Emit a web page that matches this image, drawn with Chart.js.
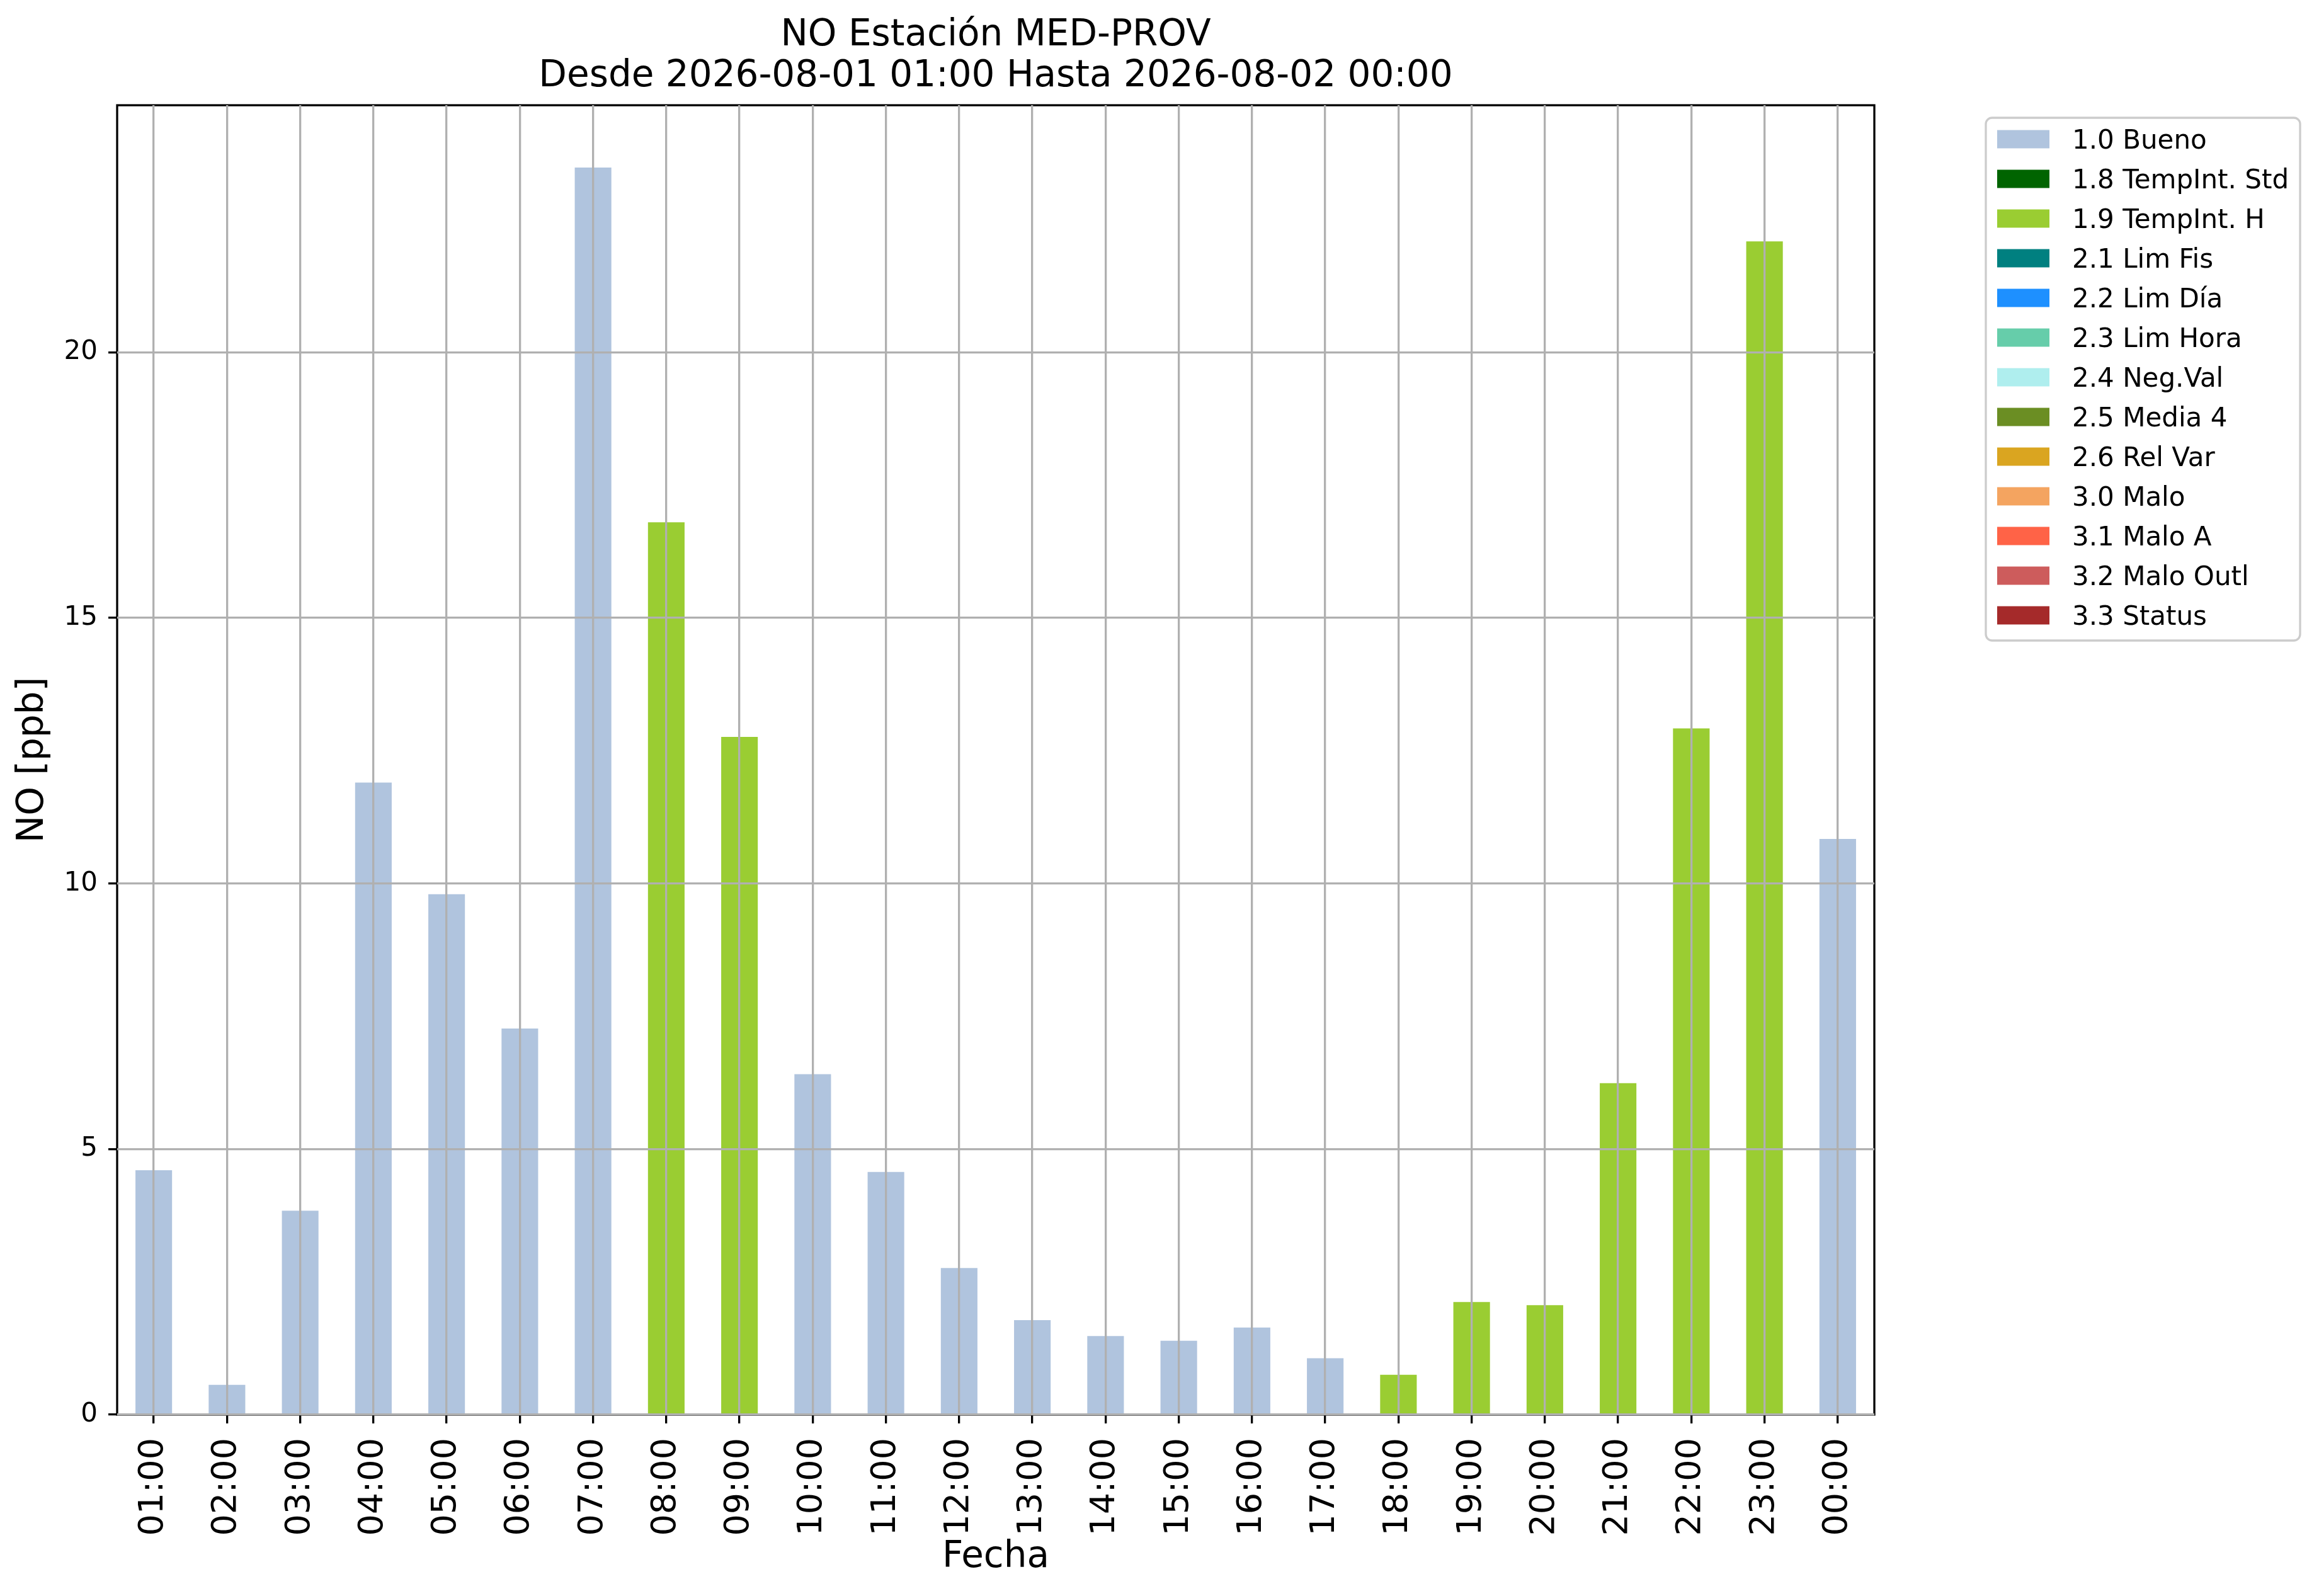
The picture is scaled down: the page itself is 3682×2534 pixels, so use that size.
<!DOCTYPE html>
<html>
<head>
<meta charset="utf-8">
<script src="https://cdn.jsdelivr.net/npm/chart.js@4.4.1/dist/chart.umd.min.js"></script>
<style>
  body { margin: 0; background: #fff; }
</style>
</head>
<body>
<canvas id="grafico" width="3682" height="2534"></canvas>
<script>
// horas del dia (eje x)
const horas = ['01:00', '02:00', '03:00', '04:00', '05:00', '06:00', '07:00', '08:00',
    '09:00', '10:00', '11:00', '12:00', '13:00', '14:00', '15:00', '16:00',
    '17:00', '18:00', '19:00', '20:00', '21:00', '22:00', '23:00', '00:00']

// valores NO [ppb] por bandera de validacion
const bueno = [4.60, 0.56, 3.84, 11.90, 9.80, 7.27, 23.48, null,
    null, 6.41, 4.57, 2.76, 1.78, 1.48, 1.39, 1.64,
    1.06, null, null, null, null, null, null, 10.84]
const tempIntH = [null, null, null, null, null, null, null, 16.80,
    12.76, null, null, null, null, null, null, null,
    null, 0.75, 2.12, 2.06, 6.24, 12.92, 22.09, null]

const etiquetas = ['1.0 Bueno', '1.8 TempInt. Std', '1.9 TempInt. H', '2.1 Lim Fis',
    '2.2 Lim Día', '2.3 Lim Hora', '2.4 Neg.Val', '2.5 Media 4', '2.6 Rel Var',
    '3.0 Malo', '3.1 Malo A', '3.2 Malo Outl', '3.3 Status']
const colores = ['#b0c4de', '#006400', '#9acd32', '#008080', '#1e90ff', '#66cdaa',
    '#afeeee', '#6b8e23', '#daa520', '#f4a460', '#ff6347', '#cd5c5c', '#a52a2a']

const yTicks = [0, 5, 10, 15, 20]

const titulo = ['NO Estación MED-PROV', 'Desde 2026-08-01 01:00 Hasta 2026-08-02 00:00']

const series = {
    '1.0 Bueno': bueno,
    '1.9 TempInt. H': tempIntH
}

const datasets = etiquetas.map((et, i) => ({
    label: et,
    data: series[et] || [],
    backgroundColor: colores[i],
    borderWidth: 0,
    barPercentage: 0.5,
    categoryPercentage: 1.0
}))

// limite superior como matplotlib (margen 5%)
const totales = horas.map((h, i) => (bueno[i] || 0) + (tempIntH[i] || 0))
const yMax = Math.max(...totales) * 1.05

// marco completo de los ejes
const marco = {
    id: 'marco',
    afterDatasetsDraw(chart) {
        const a = chart.chartArea
        const ctx = chart.ctx
        ctx.save()
        ctx.strokeStyle = '#000'
        ctx.lineWidth = 3.3
        ctx.strokeRect(a.left, a.top, a.right - a.left, a.bottom - a.top)
        ctx.restore()
    }
}

// leyenda a la derecha, fuera de los ejes
const leyenda = {
    id: 'leyenda',
    afterDraw(chart) {
        const ctx = chart.ctx
        const x0 = chart.chartArea.right + 177
        const y0 = 187
        const paso = 63
        ctx.save()
        ctx.fillStyle = '#fff'
        ctx.strokeStyle = '#cccccc'
        ctx.lineWidth = 3.3
        ctx.beginPath()
        ctx.roundRect(x0, y0, 499, 830, 10)
        ctx.fill()
        ctx.stroke()
        ctx.font = '42px "DejaVu Sans"'
        ctx.textBaseline = 'alphabetic'
        chart.data.datasets.forEach((ds, i) => {
            const yc = y0 + 34 + i * paso
            ctx.fillStyle = ds.backgroundColor
            ctx.fillRect(x0 + 18, yc - 14.5, 83, 29)
            ctx.fillStyle = '#000'
            ctx.fillText(ds.label, x0 + 137, yc + 15)
        })
        ctx.restore()
    }
}

Chart.defaults.font.family = '"DejaVu Sans", sans-serif'
Chart.defaults.color = '#000'

const grafico = new Chart(document.getElementById('grafico'), {
    type: 'bar',
    data: {
        labels: horas,
        datasets: datasets
    },
    options: {
        responsive: false,
        animation: false,
        devicePixelRatio: 1,
        layout: {
            padding: { top: 0, left: 0, right: 706, bottom: 0 }
        },
        plugins: {
            legend: { display: false },
            tooltip: { enabled: false },
            title: {
                display: true,
                text: titulo,
                fullSize: false,
                color: '#000',
                font: { size: 58, weight: 'normal', lineHeight: 1.13 },
                padding: { top: 24, bottom: 12 }
            }
        },
        scales: {
            x: {
                stacked: true,
                offset: true,
                afterFit: (s) => { s.height = 288 },
                grid: {
                    offset: false,
                    color: '#b0b0b0',
                    lineWidth: 3.3,
                    tickColor: '#000',
                    tickWidth: 3.3,
                    tickLength: 14,
                    z: 1
                },
                border: { display: false },
                ticks: {
                    autoSkip: false,
                    minRotation: 90,
                    maxRotation: 90,
                    padding: 23,
                    color: '#000',
                    font: { size: 54 }
                },
                title: {
                    display: true,
                    text: 'Fecha',
                    color: '#000',
                    font: { size: 58 },
                    padding: { top: 0, bottom: 26 }
                }
            },
            y: {
                stacked: true,
                min: 0,
                max: yMax,
                afterFit: (s) => { s.width = 186 },
                afterBuildTicks: (s) => { s.ticks = yTicks.map(v => ({ value: v })) },
                grid: {
                    color: '#b0b0b0',
                    lineWidth: 3.3,
                    tickColor: '#000',
                    tickWidth: 3.3,
                    tickLength: 14,
                    z: 1
                },
                border: { display: false },
                ticks: {
                    padding: 17,
                    color: '#000',
                    font: { size: 42 }
                },
                title: {
                    display: true,
                    text: 'NO [ppb]',
                    color: '#000',
                    font: { size: 58 },
                    padding: { top: 18, bottom: 0 }
                }
            }
        }
    },
    plugins: [marco, leyenda]
})
</script>
</body>
</html>
